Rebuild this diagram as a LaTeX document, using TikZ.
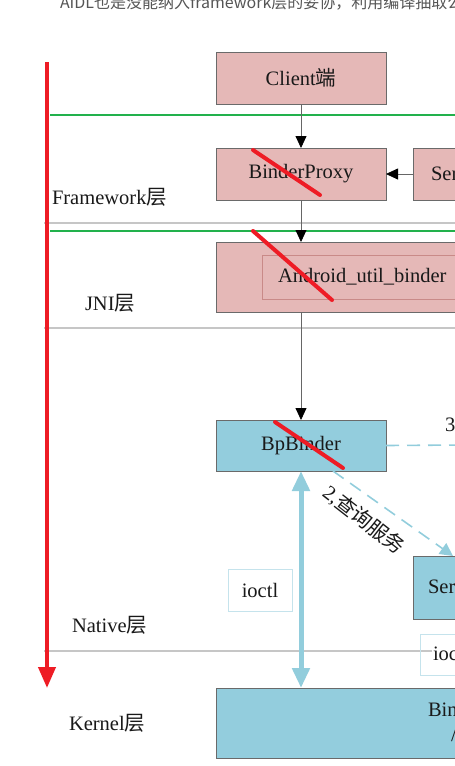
\documentclass[tikz,border=0pt]{standalone}
\usepackage{fontspec}
\setmainfont{Liberation Serif}
\newfontfamily\cjk{Noto Sans CJK SC}
\usetikzlibrary{arrows.meta,calc}
\definecolor{pinkfill}{HTML}{E5B8B7}
\definecolor{bluefill}{HTML}{93CDDD}
\definecolor{boxborder}{HTML}{6A6A6A}
\definecolor{arrowblue}{HTML}{92CDDC}
\definecolor{lgreen}{HTML}{22B14C}
\definecolor{lred}{HTML}{EE1C25}
\definecolor{lgray}{HTML}{C6C6C6}
\definecolor{topgray}{HTML}{555555}
\definecolor{innerred}{HTML}{C98A88}
\definecolor{iobox}{HTML}{C5E3EC}
\definecolor{conngray}{HTML}{666666}
\begin{document}
\begin{tikzpicture}[x=1pt,y=-1pt,
  every node/.style={inner sep=0pt,outer sep=0pt},
  txt/.style={font=\fontsize{20.5}{24}\selectfont,text=black!90},
  boxbase/.style={draw=boxborder,line width=0.8pt,anchor=north west},
  pinkbox/.style={boxbase,fill=pinkfill},
  bluebox/.style={boxbase,fill=bluefill},
  labelbox/.style={draw=iobox,line width=0.8pt,anchor=north west},
  layerlbl/.style={txt,anchor=west},
  greenline/.style={draw=lgreen,line width=1.6pt},
  grayline/.style={draw=lgray,line width=2.6pt},
  conn/.style={draw=conngray,line width=0.8pt,-{Triangle[length=12pt,width=11pt,color=black]}},
  crossout/.style={draw=lred,line width=4pt,line cap=round},
  bigdbl/.style={draw=arrowblue,line width=5pt,{Triangle[length=20pt,width=17pt]}-{Triangle[length=20pt,width=17pt]}},
  dashblue/.style={draw=arrowblue,line width=1.6pt,dash pattern=on 13pt off 8pt},
]
\useasboundingbox (0,0) rectangle (455,766);
\clip (0,0) rectangle (455,766);

% top cropped text line
\node[anchor=base west,font=\cjk\fontsize{16}{18}\selectfont,text=topgray] (toptext) at (60,8) {AIDL也是没能纳入framework层的妥协，利用编译抽取公};

% layer separator lines
\coordinate (g1a) at (50,115);  \coordinate (g1b) at (455,115);
\coordinate (s1a) at (44,223);  \coordinate (s1b) at (455,223);
\coordinate (g2a) at (50,231);  \coordinate (g2b) at (455,231);
\coordinate (s2a) at (44,328);  \coordinate (s2b) at (455,328);
\coordinate (s3a) at (44,651);  \coordinate (s3b) at (455,651);
\draw[greenline] (g1a) -- (g1b);
\draw[grayline] (s1a) -- (s1b);
\draw[greenline] (g2a) -- (g2b);
\draw[grayline] (s2a) -- (s2b);
\draw[grayline] (s3a) -- (s3b);

% layer labels
\node[layerlbl] (fw) at (52,197) {Framework{\cjk 层}};
\node[layerlbl] (jni) at (85,303) {JNI{\cjk 层}};
\node[layerlbl] (native) at (72,625) {Native{\cjk 层}};
\node[layerlbl] (kernel) at (69,723) {Kernel{\cjk 层}};

% boxes
\node[pinkbox,minimum width=170pt,minimum height=52pt,txt] (client) at (216,52) {Client{\cjk 端}};
\node[pinkbox,minimum width=170pt,minimum height=52pt,txt] (bproxy) at (216,148) {BinderProxy};
\node[pinkbox,minimum width=100pt,minimum height=52pt] (ser1) at (413,148) {};
\node[txt,anchor=west] (ser1t) at (431,174) {Ser};
\node[pinkbox,minimum width=300pt,minimum height=70pt] (android) at (216,242) {};
\node[draw=innerred,line width=0.6pt,anchor=north west,minimum width=250pt,minimum height=44pt] (inner) at (262,255) {};
\node[txt,anchor=west] (androidt) at (278,277) {Android\_util\_binder};
\node[bluebox,minimum width=170pt,minimum height=51pt,txt] (bpbinder) at (216,420) {BpBinder};
\node[bluebox,minimum width=100pt,minimum height=63pt] (ser2) at (413,556) {};
\node[txt,anchor=west] (ser2t) at (428,587) {Ser};
\node[labelbox,fill=white,minimum width=64pt,minimum height=42pt,txt] (ioctl) at (228,569) {ioctl};
\node[labelbox,minimum width=100pt,minimum height=41pt] (iocbox) at (420,634) {};
\node[txt,anchor=west,fill=white,inner sep=1pt] (ioct) at (432,654) {ioc};
\node[bluebox,minimum width=300pt,minimum height=70pt] (binderdrv) at (216,688) {};
\node[txt,anchor=west] (bint) at (428,710) {Bin};
\node[txt,anchor=west] (slasht) at (451,735) {/};
\node[txt,anchor=west] (three) at (445,425) {3};

% connectors
\draw[conn] (client) -- (bproxy);
\draw[conn] (ser1) -- (bproxy);
\draw[conn] (bproxy) -- (bproxy |- android.north);
\draw[conn] (android.south -| bpbinder) -- (bpbinder);
\draw[bigdbl] (bpbinder.south) -- (binderdrv.north -| bpbinder.south);
\coordinate (rightend) at (462,445);
\draw[dashblue] (bpbinder.east) -- (rightend);
\coordinate (qstart) at (333,471);
\coordinate (qend) at (453,556);
\draw[dashblue,-{Triangle[length=13pt,width=13pt,color=arrowblue]}] (qstart) -- (qend);
\node[txt,rotate=-38] (qlabel) at (364,520) {2,{\cjk 查询服务}};

% crossed-out marks
\coordinate (c1a) at (253,150); \coordinate (c1b) at (320,195);
\coordinate (c2a) at (253,231); \coordinate (c2b) at (332,300);
\coordinate (c3a) at (275,422); \coordinate (c3b) at (343,468);
\draw[crossout] (c1a) -- (c1b);
\draw[crossout] (c2a) -- (c2b);
\draw[crossout] (c3a) -- (c3b);

% red direction arrow
\coordinate (ra) at (47,62);
\coordinate (rb) at (47,688);
\draw[draw=lred,line width=4pt,-{Triangle[length=21pt,width=17pt]}] (ra) -- (rb);
\end{tikzpicture}
\end{document}
